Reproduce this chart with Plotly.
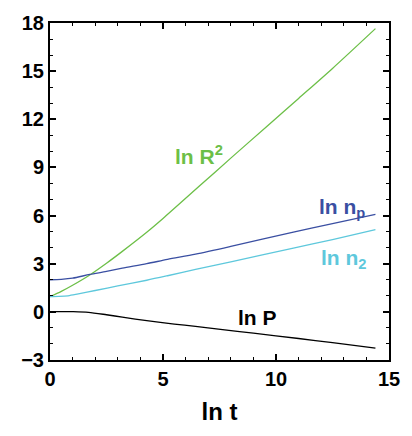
import plotly.graph_objects as go

# ln t grid for each quantity
lnt_R2 = [0, 0.5, 1.0, 1.76, 2.5, 3.2, 4.28, 5.0, 6.66, 8.0, 9.63, 11.0, 12.5, 14.4]
ln_R2 = [0.95, 1.28, 1.66, 2.3, 3.03, 3.77, 4.96, 5.82, 7.9, 9.58, 11.6, 13.3, 15.17, 17.65]

lnt_np = [0, 0.5, 1.0, 1.76, 2.5, 3.2, 4.28, 5.2, 6.44, 8.0, 10.77, 12.5, 14.4]
ln_np = [2.0, 2.03, 2.1, 2.33, 2.52, 2.72, 3.0, 3.27, 3.6, 4.08, 4.97, 5.5, 6.08]

lnt_n2 = [0, 0.4, 0.8, 1.2, 2.0, 3.0, 4.28, 5.2, 6.44, 8.0, 10.77, 12.5, 14.4]
ln_n2 = [0.95, 0.96, 1.0, 1.1, 1.33, 1.62, 1.97, 2.25, 2.64, 3.12, 3.97, 4.5, 5.13]

lnt_P = [0, 1.0, 1.7, 2.5, 3.2, 4.28, 5.5, 6.44, 7.45, 9.0, 11.0, 12.5, 14.4]
ln_P = [0.02, 0.01, -0.03, -0.18, -0.33, -0.55, -0.76, -0.91, -1.07, -1.33, -1.66, -1.92, -2.26]

x_ticks = [0, 5, 10, 15]
y_ticks = [-3, 0, 3, 6, 9, 12, 15, 18]

GREEN = "#6cbf47"
BLUE = "#3a4fa2"
CYAN = "#5ec8dc"
FONT = "Liberation Sans, Arial, sans-serif"

fig = go.Figure()
for xs, ys, col in [(lnt_R2, ln_R2, GREEN), (lnt_np, ln_np, BLUE),
                    (lnt_n2, ln_n2, CYAN), (lnt_P, ln_P, "black")]:
    fig.add_trace(go.Scatter(x=xs, y=ys, mode="lines",
                             line=dict(color=col, width=1.3, shape="spline", smoothing=0.8),
                             showlegend=False, hoverinfo="skip"))

labels = [
    (6.6, 9.75, "<b>ln R<sup>2</sup></b>", GREEN),
    (12.9, 6.45, "<b>ln n<sub>p</sub></b>", BLUE),
    (13.0, 3.3, "<b>ln n<sub>2</sub></b>", CYAN),
    (9.17, -0.33, "<b>ln P</b>", "black"),
]
for x, y, t, c in labels:
    fig.add_annotation(x=x, y=y, text=t, showarrow=False, xanchor="center", yanchor="middle",
                       font=dict(family=FONT, size=21, color=c))

axis_common = dict(
    showgrid=False, zeroline=False, showline=True, linecolor="black", linewidth=2,
    mirror="allticks", ticks="inside", ticklen=6, tickwidth=1.5, tickcolor="black",
    tickfont=dict(family=FONT, size=20, color="black", weight="bold"),
)

fig.update_xaxes(range=[0, 15], tickvals=x_ticks,
                 minor=dict(dtick=1, ticks="inside", ticklen=3, tickwidth=1.2, tickcolor="black"),
                 title=dict(text="<b>ln t</b>", font=dict(family=FONT, size=24, color="black"), standoff=14),
                 **axis_common)
fig.update_yaxes(range=[-3, 18], tickvals=y_ticks,
                 minor=dict(dtick=1, ticks="inside", ticklen=3, tickwidth=1.2, tickcolor="black"),
                 **axis_common)

fig.update_layout(
    width=412, height=436,
    margin=dict(l=50, r=15, t=14, b=76),
    paper_bgcolor="white", plot_bgcolor="white",
)

fig.write_html("out.html")
